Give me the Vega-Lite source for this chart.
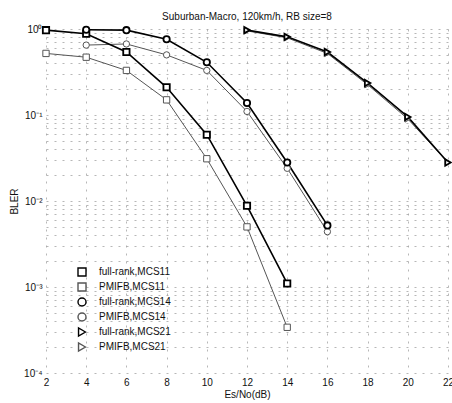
{
  "$schema": "https://vega.github.io/schema/vega-lite/v6.json",
  "width": 402,
  "height": 344,
  "autosize": {"type": "none"},
  "padding": {"left": 46, "top": 29, "right": 4, "bottom": 30},
  "background": "white",
  "title": {"text": "Suburban-Macro, 120km/h, RB size=8", "font": "Liberation Sans", "fontSize": 10, "fontWeight": "normal", "color": "#111", "offset": 1, "anchor": "middle"},
  "config": {
    "view": {"stroke": null},
    "axis": {"labelFont": "Liberation Sans", "titleFont": "Liberation Sans", "labelFontSize": 10, "titleFontSize": 10, "titleFontWeight": "normal", "labelColor": "#111", "titleColor": "#111", "domain": false, "ticks": false, "gridColor": "#999", "gridDash": [2, 6], "gridWidth": 1, "gridOpacity": 0.7}
  },
  "data": {"values": [
    {"snr": 2, "bler": 0.97, "scheme": "full-rank", "series": "full-rank,MCS11"},
    {"snr": 4, "bler": 0.88, "scheme": "full-rank", "series": "full-rank,MCS11"},
    {"snr": 6, "bler": 0.54, "scheme": "full-rank", "series": "full-rank,MCS11"},
    {"snr": 8, "bler": 0.21, "scheme": "full-rank", "series": "full-rank,MCS11"},
    {"snr": 10, "bler": 0.059, "scheme": "full-rank", "series": "full-rank,MCS11"},
    {"snr": 12, "bler": 0.0088, "scheme": "full-rank", "series": "full-rank,MCS11"},
    {"snr": 14, "bler": 0.0011, "scheme": "full-rank", "series": "full-rank,MCS11"},
    {"snr": 2, "bler": 0.52, "scheme": "PMIFB", "series": "PMIFB,MCS11"},
    {"snr": 4, "bler": 0.47, "scheme": "PMIFB", "series": "PMIFB,MCS11"},
    {"snr": 6, "bler": 0.33, "scheme": "PMIFB", "series": "PMIFB,MCS11"},
    {"snr": 8, "bler": 0.15, "scheme": "PMIFB", "series": "PMIFB,MCS11"},
    {"snr": 10, "bler": 0.031, "scheme": "PMIFB", "series": "PMIFB,MCS11"},
    {"snr": 12, "bler": 0.005, "scheme": "PMIFB", "series": "PMIFB,MCS11"},
    {"snr": 14, "bler": 0.00034, "scheme": "PMIFB", "series": "PMIFB,MCS11"},
    {"snr": 4, "bler": 0.98, "scheme": "full-rank", "series": "full-rank,MCS14"},
    {"snr": 6, "bler": 0.97, "scheme": "full-rank", "series": "full-rank,MCS14"},
    {"snr": 8, "bler": 0.76, "scheme": "full-rank", "series": "full-rank,MCS14"},
    {"snr": 10, "bler": 0.41, "scheme": "full-rank", "series": "full-rank,MCS14"},
    {"snr": 12, "bler": 0.138, "scheme": "full-rank", "series": "full-rank,MCS14"},
    {"snr": 14, "bler": 0.028, "scheme": "full-rank", "series": "full-rank,MCS14"},
    {"snr": 16, "bler": 0.0052, "scheme": "full-rank", "series": "full-rank,MCS14"},
    {"snr": 4, "bler": 0.65, "scheme": "PMIFB", "series": "PMIFB,MCS14"},
    {"snr": 6, "bler": 0.67, "scheme": "PMIFB", "series": "PMIFB,MCS14"},
    {"snr": 8, "bler": 0.5, "scheme": "PMIFB", "series": "PMIFB,MCS14"},
    {"snr": 10, "bler": 0.33, "scheme": "PMIFB", "series": "PMIFB,MCS14"},
    {"snr": 12, "bler": 0.11, "scheme": "PMIFB", "series": "PMIFB,MCS14"},
    {"snr": 14, "bler": 0.024, "scheme": "PMIFB", "series": "PMIFB,MCS14"},
    {"snr": 16, "bler": 0.0044, "scheme": "PMIFB", "series": "PMIFB,MCS14"},
    {"snr": 12, "bler": 0.97, "scheme": "full-rank", "series": "full-rank,MCS21"},
    {"snr": 14, "bler": 0.81, "scheme": "full-rank", "series": "full-rank,MCS21"},
    {"snr": 16, "bler": 0.54, "scheme": "full-rank", "series": "full-rank,MCS21"},
    {"snr": 18, "bler": 0.235, "scheme": "full-rank", "series": "full-rank,MCS21"},
    {"snr": 20, "bler": 0.095, "scheme": "full-rank", "series": "full-rank,MCS21"},
    {"snr": 22, "bler": 0.028, "scheme": "full-rank", "series": "full-rank,MCS21"},
    {"snr": 12, "bler": 0.95, "scheme": "PMIFB", "series": "PMIFB,MCS21"},
    {"snr": 14, "bler": 0.79, "scheme": "PMIFB", "series": "PMIFB,MCS21"},
    {"snr": 16, "bler": 0.52, "scheme": "PMIFB", "series": "PMIFB,MCS21"},
    {"snr": 18, "bler": 0.225, "scheme": "PMIFB", "series": "PMIFB,MCS21"},
    {"snr": 20, "bler": 0.09, "scheme": "PMIFB", "series": "PMIFB,MCS21"},
    {"snr": 22, "bler": 0.028, "scheme": "PMIFB", "series": "PMIFB,MCS21"}
  ]},
  "encoding": {
    "x": {"field": "snr", "type": "quantitative", "scale": {"domain": [2, 22], "nice": false, "zero": false},
      "axis": {"title": "Es/No(dB)", "values": [2, 4, 6, 8, 10, 12, 14, 16, 18, 20, 22], "labelPadding": 4, "titlePadding": 2, "labelFlush": false}},
    "y": {"field": "bler", "type": "quantitative", "scale": {"type": "log", "domain": [0.0001, 1], "nice": false},
      "axis": {"title": "BLER", "titleX": -27,
        "values": [0.0001, 0.0002, 0.0003, 0.0004, 0.0005, 0.0006, 0.0007, 0.0008, 0.0009, 0.001, 0.002, 0.003, 0.004, 0.005, 0.006, 0.007, 0.008, 0.009, 0.01, 0.02, 0.03, 0.04, 0.05, 0.06, 0.07, 0.08, 0.09, 0.1, 0.2, 0.3, 0.4, 0.5, 0.6, 0.7, 0.8, 0.9, 1],
        "labelExpr": "datum.value == 1 ? '10⁰' : datum.value == 0.1 ? '10⁻¹' : datum.value == 0.01 ? '10⁻²' : datum.value == 0.001 ? '10⁻³' : datum.value == 0.0001 ? '10⁻⁴' : ''",
        "labelPadding": 4, "labelFlush": false}},
    "stroke": {"field": "series", "type": "nominal",
      "scale": {"domain": ["full-rank,MCS11", "PMIFB,MCS11", "full-rank,MCS14", "PMIFB,MCS14", "full-rank,MCS21", "PMIFB,MCS21"],
        "range": ["#000000", "#555555", "#000000", "#555555", "#000000", "#555555"]}}
  },
  "layer": [
    {"transform": [{"filter": "datum.scheme == 'PMIFB'"}], "mark": {"type": "line", "strokeWidth": 1}, "encoding": {"detail": {"field": "series"}}},
    {"transform": [{"filter": "datum.scheme == 'full-rank'"}], "mark": {"type": "line", "strokeWidth": 1.6}, "encoding": {"detail": {"field": "series"}}},
    {"transform": [{"filter": "datum.scheme == 'PMIFB'"}], "mark": {"type": "point", "fill": "white", "strokeWidth": 1, "size": 40, "opacity": 1},
      "encoding": {"shape": {"field": "series", "type": "nominal",
        "scale": {"domain": ["full-rank,MCS11", "PMIFB,MCS11", "full-rank,MCS14", "PMIFB,MCS14", "full-rank,MCS21", "PMIFB,MCS21"],
          "range": ["square", "square", "circle", "circle", "triangle-right", "triangle-right"]}}}},
    {"transform": [{"filter": "datum.scheme == 'full-rank'"}], "mark": {"type": "point", "fill": "white", "strokeWidth": 1.8, "size": 40, "opacity": 1},
      "encoding": {"shape": {"field": "series", "type": "nominal",
        "legend": {"title": null, "orient": "none", "legendX": 31, "legendY": 238, "padding": 0, "symbolSize": 64, "symbolStrokeWidth": 1.4, "labelFont": "Liberation Sans", "labelFontSize": 10, "labelColor": "#111", "labelOffset": 12, "rowPadding": 1},
        "scale": {"domain": ["full-rank,MCS11", "PMIFB,MCS11", "full-rank,MCS14", "PMIFB,MCS14", "full-rank,MCS21", "PMIFB,MCS21"],
          "range": ["square", "square", "circle", "circle", "triangle-right", "triangle-right"]}}}}
  ]
}
